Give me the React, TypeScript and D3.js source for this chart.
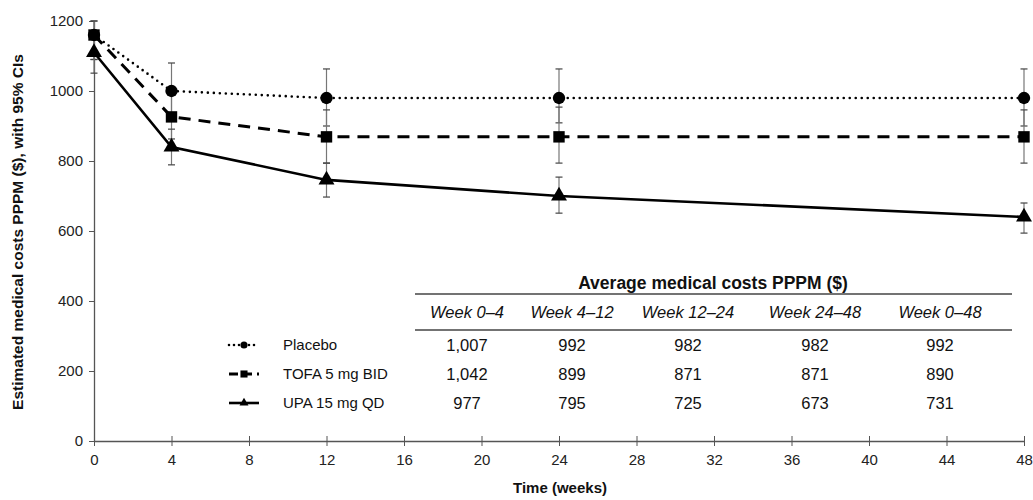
import * as d3 from 'd3';
import { useEffect, useRef } from 'react';

// x values (weeks)
const weeks = [0, 4, 12, 24, 48];
const xTicks = [0, 4, 8, 12, 16, 20, 24, 28, 32, 36, 40, 44, 48];
const yTicks = [0, 200, 400, 600, 800, 1000, 1200];

// series
const placebo = [1160, 1000, 980, 980, 980];
const placeboLo = [1090, 920, 900, 909, 900];
const placeboHi = [1200, 1080, 1063, 1063, 1063];

const tofa = [1160, 926, 869, 869, 869];
const tofaLo = [1090, 863, 794, 794, 794];
const tofaHi = [1200, 990, 946, 954, 946];

const upa = [1110, 840, 746, 700, 640];
const upaLo = [1051, 789, 697, 651, 594];
const upaHi = [1170, 891, 794, 754, 680];

// table
const tableTitle = 'Average medical costs PPPM ($)';
const periods = ['Week 0–4', 'Week 4–12', 'Week 12–24', 'Week 24–48', 'Week 0–48'];
const seriesNames = ['Placebo', 'TOFA 5 mg BID', 'UPA 15 mg QD'];
const placeboAvg = ['1,007', '992', '982', '982', '992'];
const tofaAvg = ['1,042', '899', '871', '871', '890'];
const upaAvg = ['977', '795', '725', '673', '731'];

const font = 'Liberation Sans, Arial, sans-serif';

const App = () => {
    const ref = useRef<SVGSVGElement>(null);

    useEffect(() => {
        const svg = d3.select(ref.current);
        svg.selectAll('*').remove();

        const x = d3.scaleLinear().domain([0, 48]).range([94, 1024]);
        const y = d3.scaleLinear().domain([0, 1200]).range([441, 21]);
        const axisColor = '#555';

        // Y axis
        const yAxisG = svg.append('g')
            .attr('transform', `translate(${x(0)},0)`)
            .call(d3.axisLeft(y).tickValues(yTicks).tickFormat(d3.format('d')).tickSize(5).tickSizeOuter(0).tickPadding(6));
        yAxisG.select('.domain').style('stroke', axisColor).style('stroke-width', 1.3);
        yAxisG.selectAll('line').style('stroke', axisColor);
        yAxisG.selectAll('text').style('font-size', '15px').style('font-family', font).style('fill', '#222');

        // X axis (ticks cross the axis)
        const xAxisG = svg.append('g')
            .attr('transform', `translate(0,${y(0)})`)
            .call(d3.axisBottom(x).tickValues(xTicks).tickSize(5).tickSizeOuter(0).tickPadding(8));
        xAxisG.select('.domain').style('stroke', axisColor).style('stroke-width', 1.3);
        xAxisG.selectAll('.tick line').attr('y1', -5).style('stroke', axisColor);
        xAxisG.selectAll('text').style('font-size', '15px').style('font-family', font).style('fill', '#222');

        // Axis labels
        svg.append('text')
            .attr('transform', 'rotate(-90)')
            .attr('x', -232)
            .attr('y', 23)
            .attr('text-anchor', 'middle')
            .style('font-size', '15.5px')
            .style('font-weight', 'bold')
            .style('font-family', font)
            .style('fill', '#111')
            .text('Estimated medical costs PPPM ($), with 95% CIs');

        svg.append('text')
            .attr('x', 560)
            .attr('y', 493)
            .attr('text-anchor', 'middle')
            .style('font-size', '15px')
            .style('font-weight', 'bold')
            .style('font-family', font)
            .style('fill', '#111')
            .text('Time (weeks)');

        const series = [
            { name: 'placebo', vals: placebo, lo: placeboLo, hi: placeboHi, dash: '0 6', width: 2.6, cap: 'round', marker: 'circle' },
            { name: 'tofa', vals: tofa, lo: tofaLo, hi: tofaHi, dash: '12 8', width: 3, cap: 'butt', marker: 'square' },
            { name: 'upa', vals: upa, lo: upaLo, hi: upaHi, dash: null, width: 2.6, cap: 'butt', marker: 'triangle' },
        ];

        // Error bars
        const errColor = '#777';
        series.forEach((s) => {
            const g = svg.append('g').attr('class', `err-${s.name}`);
            weeks.forEach((w, i) => {
                const cx = x(w);
                g.append('line')
                    .attr('x1', cx).attr('x2', cx)
                    .attr('y1', y(s.lo[i])).attr('y2', y(s.hi[i]))
                    .attr('stroke', errColor).attr('stroke-width', 1.2);
                [s.lo[i], s.hi[i]].forEach((v) => {
                    g.append('line')
                        .attr('x1', cx - 3.5).attr('x2', cx + 3.5)
                        .attr('y1', y(v)).attr('y2', y(v))
                        .attr('stroke', '#444').attr('stroke-width', 1.2);
                });
            });
        });

        const line = d3.line<number>()
            .x((d, i) => x(weeks[i]))
            .y((d) => y(d));

        const symbolOf = (m: string) =>
            m === 'circle' ? d3.symbol(d3.symbolCircle, 120)
                : m === 'square' ? d3.symbol(d3.symbolSquare, 130)
                    : d3.symbol(d3.symbolTriangle, 110);

        // Lines and markers
        series.forEach((s) => {
            svg.append('path')
                .datum(s.vals)
                .attr('d', line)
                .attr('fill', 'none')
                .attr('stroke', '#000')
                .attr('stroke-width', s.width)
                .attr('stroke-linecap', s.cap)
                .attr('stroke-dasharray', s.dash);

            svg.selectAll(`.mk-${s.name}`)
                .data(s.vals)
                .enter()
                .append('path')
                .attr('d', symbolOf(s.marker))
                .attr('transform', (d, i) => `translate(${x(weeks[i])},${y(d)})`)
                .attr('fill', '#000');
        });

        // Table
        const colX = [467, 572, 688, 815, 940];
        const rowY = [351, 380, 409];
        const ruleX1 = 415;
        const ruleX2 = 1012;

        svg.append('text')
            .attr('x', 713)
            .attr('y', 289)
            .attr('text-anchor', 'middle')
            .style('font-size', '17.5px')
            .style('font-weight', 'bold')
            .style('font-family', font)
            .style('fill', '#111')
            .text(tableTitle);

        [294, 330].forEach((ry) => {
            svg.append('line')
                .attr('x1', ruleX1).attr('x2', ruleX2)
                .attr('y1', ry).attr('y2', ry)
                .attr('stroke', '#444').attr('stroke-width', 1.3);
        });

        svg.selectAll('.hdr')
            .data(periods)
            .enter()
            .append('text')
            .attr('x', (d, i) => colX[i])
            .attr('y', 318)
            .attr('text-anchor', 'middle')
            .style('font-size', '16.5px')
            .style('font-style', 'italic')
            .style('font-family', font)
            .style('fill', '#111')
            .text((d) => d);

        const rows = [placeboAvg, tofaAvg, upaAvg];
        rows.forEach((r, ri) => {
            svg.selectAll(`.row-${ri}`)
                .data(r)
                .enter()
                .append('text')
                .attr('x', (d, i) => colX[i])
                .attr('y', rowY[ri])
                .attr('text-anchor', 'middle')
                .style('font-size', '16.5px')
                .style('font-family', font)
                .style('fill', '#111')
                .text((d) => d);
        });

        // Legend
        series.forEach((s, i) => {
            const ly = rowY[i] - 6;
            svg.append('line')
                .attr('x1', 229).attr('x2', 259)
                .attr('y1', ly).attr('y2', ly)
                .attr('stroke', '#000')
                .attr('stroke-width', s.width)
                .attr('stroke-linecap', s.cap)
                .attr('stroke-dasharray', s.name === 'tofa' ? '9 5' : s.dash === '0 6' ? '0 5' : null);
            svg.append('path')
                .attr('d', s.marker === 'circle' ? d3.symbol(d3.symbolCircle, 40)()
                    : s.marker === 'square' ? d3.symbol(d3.symbolSquare, 50)()
                        : d3.symbol(d3.symbolTriangle, 35)())
                .attr('transform', `translate(244,${ly})`)
                .attr('fill', '#000');
            svg.append('text')
                .attr('x', 283)
                .attr('y', rowY[i] - 1)
                .style('font-size', '15px')
                .style('font-family', font)
                .style('fill', '#111')
                .text(seriesNames[i]);
        });
    }, []);

    return (
        <svg
            ref={ref}
            width={1033}
            height={500}
            style={{ position: 'absolute', left: 0, top: 0, background: '#fff' }}
        />
    );
};

export default App;
